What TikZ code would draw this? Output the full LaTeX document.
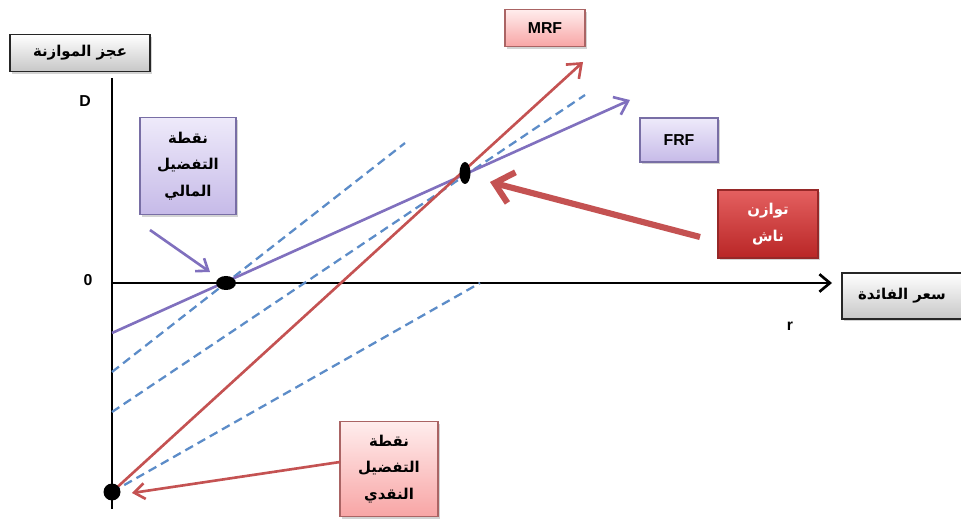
\documentclass[tikz,border=0pt]{standalone}
\usepackage{fontspec}
\setmainfont{Liberation Sans}
\newfontfamily\arabicfont[Script=Arabic]{DejaVu Sans}
\TeXXeTstate=1
\usetikzlibrary{arrows.meta,shadows}

\definecolor{mrfred}{RGB}{196,82,82}
\definecolor{frfpurple}{RGB}{128,112,190}
\definecolor{dashblue}{RGB}{92,140,200}
\definecolor{pinkline}{RGB}{170,100,100}
\definecolor{lavline}{RGB}{120,110,165}

\newcommand{\ar}[1]{{\arabicfont\bfseries\beginR #1\endR}}

\tikzset{
  labelbox/.style={draw, line width=0.8pt, align=center, inner sep=2pt,
    drop shadow={shadow xshift=1.2pt,shadow yshift=-1.2pt,opacity=0.35},
    font=\fontsize{8.5}{15}\selectfont},
  greybox/.style={labelbox, draw=black!85, top color=white, bottom color=black!22},
  pinkbox/.style={labelbox, draw=pinkline, top color=red!7, bottom color={rgb,255:red,248;green,165;blue,165}},
  lavbox/.style={labelbox, draw=lavline, top color={rgb,255:red,238;green,234;blue,250}, bottom color={rgb,255:red,198;green,186;blue,232}},
  redbox/.style={labelbox, draw={rgb,255:red,150;green,40;blue,40}, top color={rgb,255:red,228;green,96;blue,96}, bottom color={rgb,255:red,185;green,38;blue,38}, text=white},
  curve/.style={line width=1.5pt},
  guide/.style={dashblue, line width=1.3pt, dash pattern=on 5pt off 3pt},
  pointer/.style={line width=1.5pt, -{Straight Barb[length=6pt,width=9pt]}},
  tag/.style={font=\bfseries\small}
}

\begin{document}
\begin{tikzpicture}[x=0.02cm,y=-0.02cm]
\useasboundingbox (0,0) rectangle (961,520);

% points on the axes and lines
\coordinate (top) at (112,78);
\coordinate (bot) at (112,509);
\coordinate (orig) at (112,283);
\coordinate (xend) at (832,283);
\coordinate (fiscal) at (226,283);
\coordinate (nash) at (465,173);
\coordinate (money) at (112,492);

% axes
\draw[line width=1.6pt] (top) -- (bot);
\draw[line width=1.5pt, -{Straight Barb[length=6pt,width=10pt]}] (orig) -- (xend);

% dashed guides
\coordinate (g1a) at (112,372); \coordinate (g1b) at (405,143);
\coordinate (g2a) at (112,412); \coordinate (g2b) at (585,95);
\coordinate (g3b) at (480,283);
\draw[guide] (g1a) -- (g1b);
\draw[guide] (g2a) -- (g2b);
\draw[guide] (money) -- (g3b);

% FRF and MRF
\coordinate (frfa) at (112,333); \coordinate (frfb) at (630,100);
\coordinate (mrfb) at (583,62);
\draw[curve, frfpurple, -{Straight Barb[length=7pt,width=11pt]}] (frfa) -- (frfb);
\draw[curve, mrfred, -{Straight Barb[length=7pt,width=11pt]}] (money) -- (mrfb);

% dots
\fill (fiscal) ellipse (10 and 7);
\fill (nash) ellipse (5.5 and 11);
\fill (money) circle (8.5);

% axis labels
\node[tag] (dlab) at (85,101) {D};
\node[tag] (zlab) at (88,280) {0};
\node[tag] (rlab) at (790,326) {r};

% boxes
\node[greybox, minimum width=2.8cm, minimum height=0.74cm] (ybox) at (80,53) {\ar{عجز الموازنة}};
\node[greybox, minimum width=2.4cm, minimum height=0.92cm] (xbox) at (902,296) {\ar{سعر الفائدة}};
\node[pinkbox, minimum width=1.6cm, minimum height=0.74cm, font=\bfseries\small] (mrfbox) at (545,28) {MRF};
\node[lavbox, minimum width=1.56cm, minimum height=0.88cm, font=\bfseries\small] (frfbox) at (679,140) {FRF};
\node[redbox, minimum width=2cm, minimum height=1.36cm] (nashbox) at (768,224) {\ar{توازن}\\\ar{ناش}};
\node[lavbox, minimum width=1.92cm, minimum height=1.94cm] (fisbox) at (188,166) {\ar{نقطة}\\\ar{التفضيل}\\\ar{المالي}};
\node[pinkbox, minimum width=1.96cm, minimum height=1.9cm] (monbox) at (389,469) {\ar{نقطة}\\\ar{التفضيل}\\\ar{النقدي}};

% pointers
\coordinate (p1a) at (150,230); \coordinate (p1b) at (210,272);
\coordinate (p2a) at (700,237); \coordinate (p2b) at (490,182);
\coordinate (p3a) at (340,462); \coordinate (p3b) at (132,493);
\draw[pointer, frfpurple] (p1a) -- (p1b);
\draw[pointer, mrfred, line width=3.5pt, -{Straight Barb[length=10pt,width=18pt]}] (p2a) -- (p2b);
\draw[pointer, mrfred] (p3a) -- (p3b);
\end{tikzpicture}
\end{document}
